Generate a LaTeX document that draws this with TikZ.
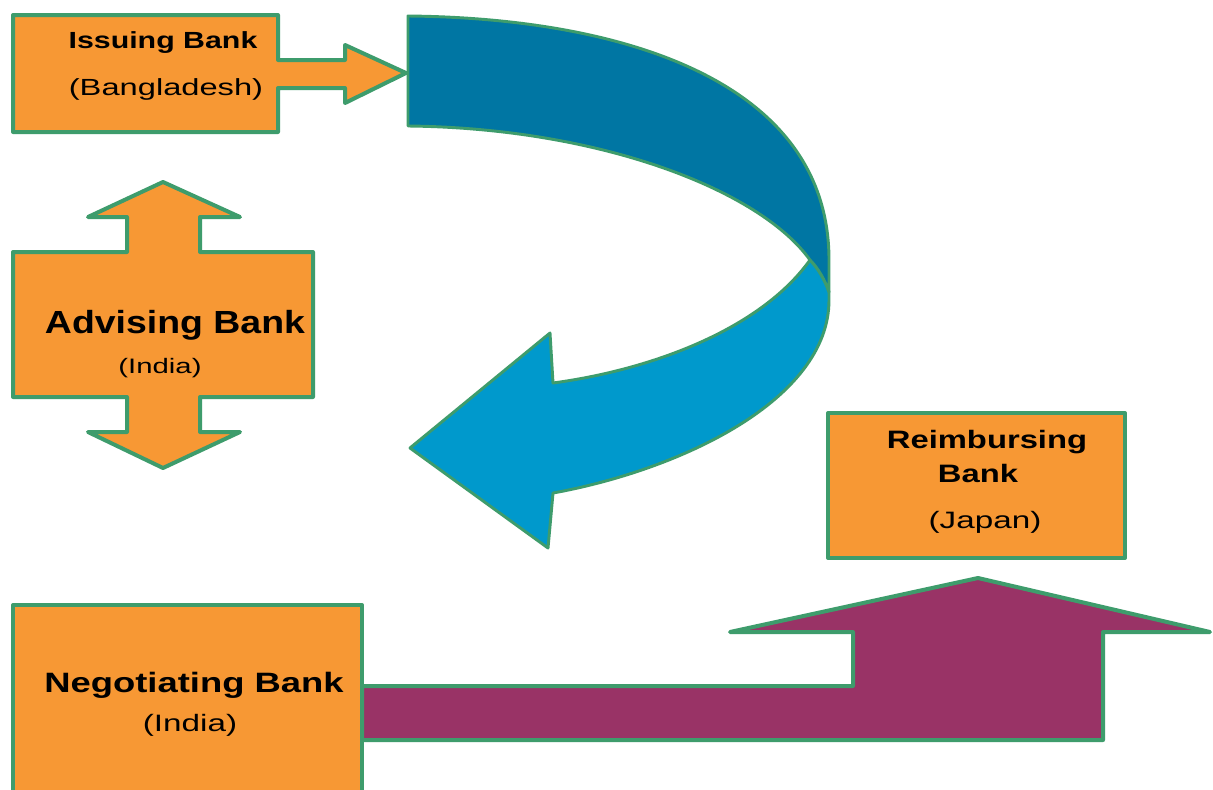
\documentclass[tikz,border=0pt]{standalone}
\usepackage{fontspec}
\setmainfont{Liberation Sans}
\definecolor{boxorange}{RGB}{247,152,52}
\definecolor{bordergreen}{RGB}{62,156,108}
\definecolor{darkblue}{RGB}{0,118,163}
\definecolor{lightblue}{RGB}{0,153,204}
\definecolor{plum}{RGB}{153,51,102}
\begin{document}
\begin{tikzpicture}[x=0.75pt,y=-0.75pt,
  shapeline/.style={draw=bordergreen,line width=3pt,line join=round},
  bluebandline/.style={draw=bordergreen,line width=2.2pt,line join=round},
  boldlbl/.style={xscale=1.3,anchor=base,inner sep=0pt,text=black},
  reglbl/.style={xscale=1.4,anchor=base,inner sep=0pt,text=black}]
\path[use as bounding box] (0,0) rectangle (1213,789);
\fill[white] (0,0) rectangle (1213,789);
\clip (0,0) rectangle (1213,789);

% U-turn arrow: light (lower) band
\path[bluebandline,fill=lightblue]
  (810,260) .. controls (760,330) and (650,370) .. (553,383)
  -- (550,333) -- (410,448) -- (548,548) -- (553,493)
  .. controls (680,470) and (829,400) .. (829,300)
  -- (829,292) .. controls (825,280) and (818,268) .. (810,260) -- cycle;
% U-turn arrow: dark (upper) band
\path[bluebandline,fill=darkblue]
  (408,16) .. controls (620,18) and (829,80) .. (829,260)
  -- (829,292) .. controls (825,280) and (818,268) .. (810,260)
  .. controls (760,190) and (600,128) .. (408,126) -- cycle;

% Issuing bank with right arrow
\path[shapeline,fill=boxorange]
  (13,15) -- (278,15) -- (278,60) -- (345,60) -- (345,45) -- (406,73)
  -- (345,103) -- (345,88) -- (278,88) -- (278,132) -- (13,132) -- cycle;
\node[boldlbl,font={\fontsize{17.5}{20}\selectfont\bfseries}] (issuing) at (163,48) {Issuing Bank};
\node[reglbl,font={\fontsize{17.5}{20}\selectfont}] (issuingc) at (166,95) {(Bangladesh)};

% Advising bank with up/down arrow
\path[shapeline,fill=boxorange]
  (13,252) -- (127,252) -- (127,217) -- (88,217) -- (163,182) -- (240,217)
  -- (200,217) -- (200,252) -- (313,252) -- (313,397) -- (200,397)
  -- (200,432) -- (240,432) -- (163,468) -- (88,432) -- (127,432)
  -- (127,397) -- (13,397) -- cycle;
\node[boldlbl,xscale=0.9,font={\fontsize{24}{28}\selectfont\bfseries}] (advising) at (175,333) {Advising Bank};
\node[reglbl,font={\fontsize{15.7}{18}\selectfont}] (advisingc) at (160,373) {(India)};

% Reimbursing bank
\path[shapeline,fill=boxorange] (828,413) rectangle (1125,558);
\node[boldlbl,font={\fontsize{18.9}{22}\selectfont\bfseries}] (reimb) at (987,448) {Reimbursing};
\node[boldlbl,font={\fontsize{18.9}{22}\selectfont\bfseries}] (reimbb) at (978,482) {Bank};
\node[reglbl,font={\fontsize{17.8}{21}\selectfont}] (reimbc) at (985,528) {(Japan)};

% Purple arrow from negotiating to reimbursing
\path[shapeline,fill=plum]
  (362,686) -- (853,686) -- (853,632) -- (730,632) -- (978,578)
  -- (1210,632) -- (1103,632) -- (1103,740) -- (362,740) -- cycle;

% Negotiating bank
\path[shapeline,fill=boxorange] (13,605) rectangle (362,795);
\node[boldlbl,font={\fontsize{21}{25}\selectfont\bfseries}] (negot) at (194,692) {Negotiating Bank};
\node[reglbl,font={\fontsize{17.8}{21}\selectfont}] (negotc) at (190,731) {(India)};
\end{tikzpicture}
\end{document}
